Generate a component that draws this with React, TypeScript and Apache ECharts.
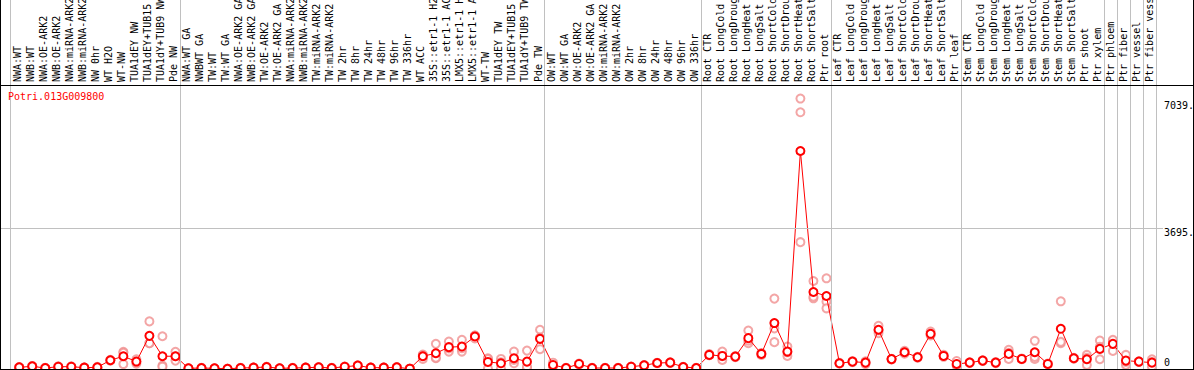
import React, { useEffect, useRef } from 'react';
import * as echarts from 'echarts';

const geneId = 'Potri.013G009800';

const categories = [
  'NWA:WT', 'NWB:WT', 'NWA:OE-ARK2', 'NWB:OE-ARK2', 'NWA:miRNA-ARK2', 'NWB:miRNA-ARK2', 'NW 0hr', 'WT H2O', 'WT-NW', 'TUA1dEY NW', 'TUA1dEY+TUB15', 'TUA1dY+TUB9 NW', 'Pde NW',
  'NWA:WT GA', 'NWBWT GA', 'TW:WT', 'TW:WT GA', 'NWA:OE-ARK2 GA', 'NWB:OE-ARK2 GA', 'TW:OE-ARK2', 'TW:OE-ARK2 GA', 'NWA:miRNA-ARK2', 'NWB:miRNA-ARK2', 'TW:miRNA-ARK2', 'TW:miRNA-ARK2', 'TW 2hr', 'TW 8hr', 'TW 24hr', 'TW 48hr', 'TW 96hr', 'TW 336hr', 'WT ACC', '35S::etr1-1 H2O', '35S::etr1-1 ACC', 'LMX5::etr1-1 H2O', 'LMX5::etr1-1 ACC', 'WT-TW', 'TUA1dEY TW', 'TUA1dEY+TUB15', 'TUA1dY+TUB9 TW', 'Pde TW',
  'OW:WT', 'OW:WT GA', 'OW:OE-ARK2', 'OW:OE-ARK2 GA', 'OW:miRNA-ARK2', 'OW:miRNA-ARK2', 'OW 2hr', 'OW 8hr', 'OW 24hr', 'OW 48hr', 'OW 96hr', 'OW 336hr',
  'Root CTR', 'Root LongCold', 'Root LongDrought', 'Root LongHeat', 'Root LongSalt', 'Root ShortCold', 'Root ShortDrought', 'Root ShortHeat', 'Root ShortSalt', 'Ptr root',
  'Leaf CTR', 'Leaf LongCold', 'Leaf LongDrought', 'Leaf LongHeat', 'Leaf LongSalt', 'Leaf ShortCold', 'Leaf ShortDrought', 'Leaf ShortHeat', 'Leaf ShortSalt', 'Ptr leaf',
  'Stem CTR', 'Stem LongCold', 'Stem LongDrought', 'Stem LongHeat', 'Stem LongSalt', 'Stem ShortCold', 'Stem ShortDrought', 'Stem ShortHeat', 'Stem ShortSalt', 'Ptr shoot', 'Ptr xylem',
  'Ptr phloem', 'Ptr fiber', 'Ptr vessel', 'Ptr fiber vessel',
];

const groupSizes = [13, 28, 12, 10, 10, 11, 1, 1, 1, 1];

const means = [
  45, 70, 26, 60, 60, 35, 45, 230, 335, 195, 870, 335, 335,
  18, 26, 18, 5, 26, 35, 53, 18, 26, 35, 45, 26, 60, 88, 35, 35, 45, 8, 335, 413, 573, 590, 853, 185, 150, 282, 193, 792,
  106, 26, 132, 26, 26, 26, 60, 97, 158, 167, 53, 26,
  370, 343, 325, 810, 396, 1206, 457, 5723, 2021, 1916,
  150, 193, 167, 1030, 260, 440, 309, 924, 343, 132,
  167, 220, 167, 396, 264, 440, 132, 1056, 282, 256, 528,
  660, 220, 193, 167,
];

const replicates = [
  [40, 50, 45], [60, 80, 70], [20, 30, 28], [55, 70, 55], [50, 70, 60], [30, 40, 35], [40, 55, 40], [220, 240, 230], [450, 130, 425], [255, 140, 190], [1250, 680, 680], [860, 90, 60], [450, 220, 335],
  [15, 20, 18], [20, 30, 28], [15, 20, 18], [5, 5, 5], [20, 30, 28], [30, 40, 35], [45, 60, 55], [15, 20, 18], [20, 30, 28], [30, 40, 35], [40, 50, 45], [20, 30, 28], [55, 65, 60], [80, 95, 88], [30, 40, 35], [30, 40, 35], [40, 50, 45], [5, 10, 8], [380, 265, 360], [660, 282, 297], [720, 457, 542], [765, 457, 548], [880, 800, 880], [282, 10, 263], [264, 10, 176], [457, 150, 240], [483, 45, 50], [1030, 520, 826],
  [166, 80, 72], [20, 30, 28], [120, 145, 132], [20, 30, 28], [20, 30, 28], [20, 30, 28], [55, 65, 60], [90, 105, 97], [150, 165, 158], [160, 175, 167], [45, 60, 53], [20, 30, 28],
  [360, 390, 360], [457, 238, 334], [310, 340, 325], [1010, 678, 742], [420, 370, 398], [1848, 705, 1065], [590, 343, 438], [7100, 6740, 3330], [2310, 1856, 1897], [2381, 1767, 1593],
  [140, 160, 150], [180, 205, 195], [200, 130, 170], [1135, 942, 1013], [250, 270, 260], [480, 400, 440], [300, 320, 307], [985, 880, 907], [370, 320, 340], [211, 90, 95],
  [160, 175, 167], [210, 230, 220], [155, 180, 166], [502, 264, 422], [255, 275, 262], [740, 264, 316], [125, 140, 131], [1777, 678, 713], [270, 295, 281], [370, 106, 292], [747, 256, 581],
  [740, 475, 765], [370, 106, 184], [185, 200, 194], [256, 60, 185],
];

const yTickValues = [0, 3695, 7039];
const yTickLabels = ['0', '3695.', '7039.'];
const gridLineValues = [3695];
const yMax = 7430;

const FONT = 'DejaVu Sans Mono';

export default function App() {
  const ref = useRef<HTMLDivElement>(null);

  useEffect(() => {
    if (!ref.current) return;
    const chart = echarts.init(ref.current, null, { renderer: 'svg' });
    const N = categories.length;
    const cell = 13.02;
    const plotLeft = 10.7;
    const plotWidth = N * cell;
    const plotTop = 86;
    const plotHeight = 283;

    const boundaries: number[] = [0];
    groupSizes.reduce((acc, s) => {
      const next = acc + s;
      boundaries.push(next);
      return next;
    }, 0);

    const repData: number[][] = [];
    replicates.forEach((reps, i) => reps.forEach((v) => repData.push([i, v])));

    const gridBase = { outerBoundsMode: 'none', containLabel: false };

    const option: any = {
      animation: false,
      backgroundColor: '#ffffff',
      title: {
        text: geneId,
        left: 8,
        top: 91,
        padding: 0,
        textStyle: { color: '#ff0000', fontFamily: FONT, fontSize: 10, fontWeight: 'normal' },
      },
      grid: [
        { ...gridBase, left: plotLeft, top: 0, width: plotWidth, height: 369 },
        { ...gridBase, left: plotLeft + 2, top: plotTop, width: plotWidth, height: plotHeight },
        { ...gridBase, left: 0, top: plotTop, width: 1163, height: plotHeight },
        { ...gridBase, left: plotLeft, top: plotTop, width: plotWidth, height: plotHeight },
      ],
      xAxis: [
        { gridIndex: 0, type: 'value', min: 0, max: N, show: false },
        {
          gridIndex: 3,
          type: 'category',
          data: categories,
          position: 'top',
          axisLine: { show: false },
          axisTick: { show: false },
          splitLine: { show: false },
          axisLabel: {
            interval: 0,
            rotate: 90,
            margin: 4,
            hideOverlap: false,
            color: '#000',
            fontFamily: FONT,
            fontSize: 10,
          },
        },
        { gridIndex: 1, type: 'category', data: categories, show: false },
        { gridIndex: 2, type: 'value', min: 0, max: 1, show: false },
      ],
      yAxis: [
        { gridIndex: 0, type: 'value', min: 0, max: 1, show: false },
        { gridIndex: 1, type: 'value', min: 0, max: yMax, show: false },
        {
          gridIndex: 2,
          type: 'value',
          min: 0,
          max: yMax,
          position: 'right',
          axisLine: { show: false },
          axisTick: { show: false },
          splitLine: { show: false },
          axisLabel: {
            customValues: yTickValues,
            margin: 1,
            color: '#000',
            fontFamily: FONT,
            fontSize: 10,
            formatter: (v: number) => {
              const i = yTickValues.indexOf(v);
              const t = i >= 0 ? yTickLabels[i] : '';
              return v === 0 ? `{z|${t}}` : `{t|${t}}`;
            },
            rich: {
              t: { padding: [9, 0, 0, 0], fontFamily: FONT, fontSize: 10, color: '#000' },
              z: { padding: [0, 0, 14, 0], fontFamily: FONT, fontSize: 10, color: '#000' },
            },
          },
        },
        { gridIndex: 3, type: 'value', min: 0, max: 1, show: false },
      ],
      series: [
        {
          type: 'line',
          xAxisIndex: 0,
          yAxisIndex: 0,
          data: [],
          silent: true,
          markLine: {
            silent: true,
            symbol: 'none',
            label: { show: false },
            lineStyle: { color: '#c0c0c0', width: 1, type: 'solid' },
            data: boundaries.map((b) => ({ xAxis: b })),
          },
        },
        {
          type: 'line',
          xAxisIndex: 3,
          yAxisIndex: 2,
          data: [],
          silent: true,
          markLine: {
            silent: true,
            symbol: 'none',
            label: { show: false },
            lineStyle: { color: '#c0c0c0', width: 1, type: 'solid' },
            data: gridLineValues.map((v) => ({ yAxis: v })),
          },
        },
        {
          type: 'scatter',
          xAxisIndex: 2,
          yAxisIndex: 1,
          data: repData,
          symbol: 'emptyCircle',
          symbolSize: 8,
          itemStyle: { color: '#f09090', borderColor: '#f09090', borderWidth: 1.3 },
          z: 3,
        },
        {
          type: 'line',
          xAxisIndex: 2,
          yAxisIndex: 1,
          data: means,
          symbol: 'emptyCircle',
          symbolSize: 8,
          showAllSymbol: true,
          itemStyle: { color: '#ff0000', borderColor: '#ff0000', borderWidth: 1.8 },
          lineStyle: { color: '#ff0000', width: 1 },
          z: 4,
        },
      ],
      graphic: [
        { type: 'line', shape: { x1: 0.5, y1: 0, x2: 0.5, y2: 370 }, style: { stroke: '#000', lineWidth: 1 }, z: 100 },
        { type: 'line', shape: { x1: 1193.5, y1: 0, x2: 1193.5, y2: 370 }, style: { stroke: '#000', lineWidth: 1 }, z: 100 },
        { type: 'line', shape: { x1: 0, y1: 85.5, x2: 1194, y2: 85.5 }, style: { stroke: '#000', lineWidth: 1 }, z: 100 },
        { type: 'line', shape: { x1: 0, y1: 369.5, x2: 1194, y2: 369.5 }, style: { stroke: '#000', lineWidth: 1 }, z: 100 },
      ],
    };

    chart.setOption(option);
    return () => chart.dispose();
  }, []);

  return (
    <div
      ref={ref}
      style={{ position: 'fixed', left: 0, top: 0, width: 1194, height: 370, background: '#fff' }}
    />
  );
}
